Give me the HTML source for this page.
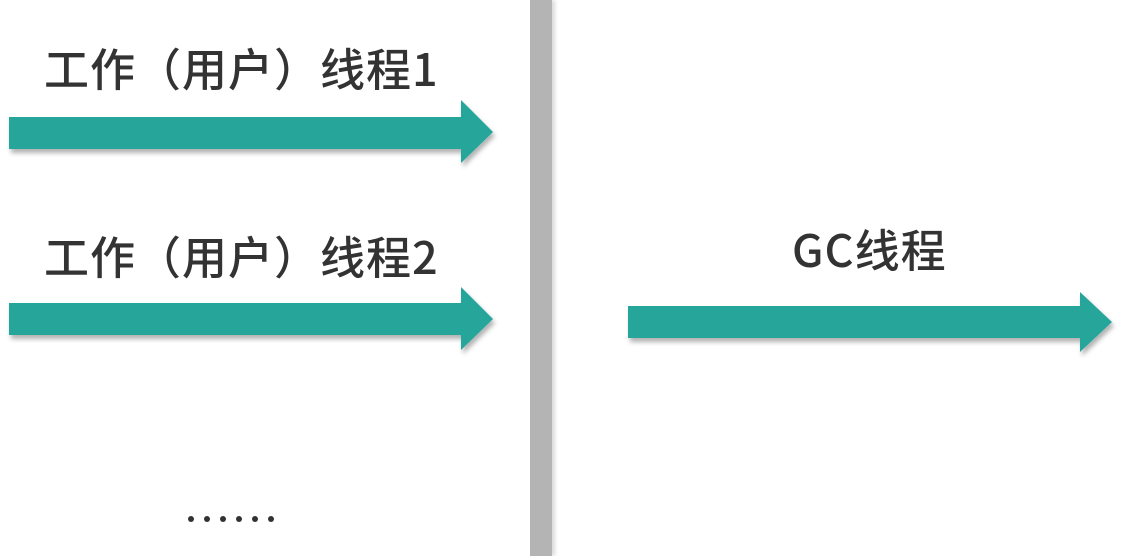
<!DOCTYPE html>
<html><head><meta charset="utf-8"><style>
body{margin:0;width:1125px;height:556px;background:#fff;overflow:hidden;position:relative;font-family:"Noto Sans CJK SC",sans-serif;color:#333}
.t{position:absolute;font-size:45px;white-space:nowrap;line-height:1;font-weight:500}
.d{position:absolute;width:6px;height:6px;border-radius:50%;background:#333;top:516px}
</style></head><body>
<div style="position:absolute;left:530px;top:0;width:22px;height:556px;background:#b4b4b4;box-shadow:3px 0 4px rgba(0,0,0,0.15)"></div>
<div class="t" style="left:44px;top:44px;letter-spacing:1px">工作（用户）线程1</div>
<div class="t" style="left:44px;top:232px;letter-spacing:1px">工作（用户）线程2</div>
<div class="t" style="left:792px;top:225px;letter-spacing:1px">GC线程</div>
<div class="d" style="left:188px"></div><div class="d" style="left:204px"></div><div class="d" style="left:220px"></div><div class="d" style="left:236px"></div><div class="d" style="left:252px"></div><div class="d" style="left:268px"></div>
<svg width="1125" height="556" style="position:absolute;left:0;top:0">
<defs><filter id="s" x="-5%" y="-30%" width="110%" height="160%"><feDropShadow dx="2" dy="4" stdDeviation="2.5" flood-color="#000" flood-opacity="0.3"/></filter></defs>
<polygon filter="url(#s)" fill="#26a69a" points="9,117 461,117 461,100 493,132 461,163 461,149 9,149"/>
<polygon filter="url(#s)" fill="#26a69a" points="9,303 461,303 461,287 493,319 461,350 461,335 9,335"/>
<polygon filter="url(#s)" fill="#26a69a" points="628,306 1080,306 1080,292 1112,322 1080,352 1080,338 628,338"/>
</svg>
</body></html>
